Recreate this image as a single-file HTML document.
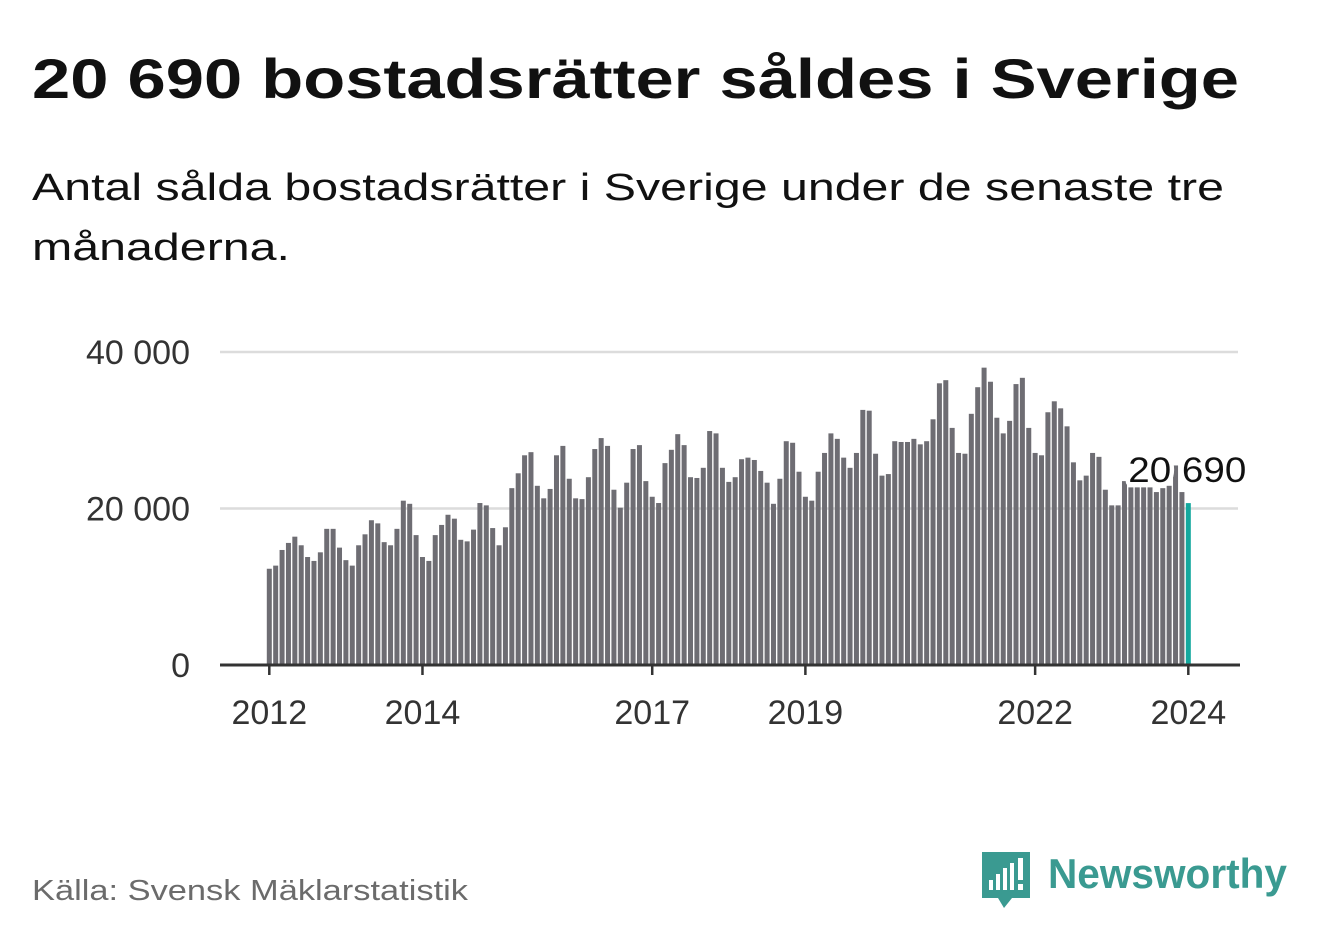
<!DOCTYPE html>
<html><head><meta charset="utf-8"><style>
html,body{margin:0;padding:0;background:#fff;width:1322px;height:939px;overflow:hidden}
text{font-family:"Liberation Sans",sans-serif}
</style></head><body>
<svg id="chart" width="1322" height="939" xmlns="http://www.w3.org/2000/svg">
<text x="32" y="98" font-size="56" font-weight="bold" fill="#111" textLength="1207" lengthAdjust="spacingAndGlyphs">20 690 bostadsrätter såldes i Sverige</text>
<text x="32" y="200" font-size="38" fill="#111" textLength="1192" lengthAdjust="spacingAndGlyphs">Antal sålda bostadsrätter i Sverige under de senaste tre</text>
<text x="32" y="260" font-size="38" fill="#111" textLength="258" lengthAdjust="spacingAndGlyphs">månaderna.</text>
<g id="grid"></g>
<g id="bars"></g>
<g id="axes"></g>
<text x="32" y="900" font-size="29" fill="#6b6b6b" textLength="436" lengthAdjust="spacingAndGlyphs">Källa: Svensk Mäklarstatistik</text>
<g>
<path d="M982,852 h48 v46 h-18 l-8,10 l-6,-10 h-16 z" fill="#3a9a91"/>
<rect x="989" y="880" width="4" height="10" fill="#fff"/>
<rect x="996" y="874" width="4" height="16" fill="#fff"/>
<rect x="1003" y="868" width="4" height="22" fill="#fff"/>
<rect x="1010" y="863" width="4" height="27" fill="#fff"/>
<rect x="1018" y="858" width="5" height="22" fill="#fff"/>
<rect x="1018" y="884" width="5" height="6" fill="#fff"/>
<text x="1048" y="888" font-size="42" font-weight="bold" fill="#3a9a91" textLength="239" lengthAdjust="spacingAndGlyphs">Newsworthy</text>
</g>
</svg>
<script>
const values = [12.3,12.7,14.7,15.6,16.4,15.3,13.8,13.3,14.4,17.4,17.4,15.0,
13.4,12.7,15.3,16.7,18.5,18.1,15.7,15.3,17.4,21.0,20.6,16.6,
13.8,13.3,16.6,17.9,19.2,18.7,16.0,15.8,17.3,20.7,20.4,17.5,
15.3,17.6,22.6,24.5,26.8,27.2,22.9,21.3,22.5,26.8,28.0,23.8,
21.3,21.2,24.0,27.6,29.0,28.0,22.4,20.1,23.3,27.6,28.1,23.5,
21.5,20.7,25.8,27.5,29.5,28.1,24.0,23.9,25.2,29.9,29.6,25.2,
23.4,24.0,26.3,26.5,26.2,24.8,23.3,20.6,23.8,28.6,28.4,24.7,
21.5,21.0,24.7,27.1,29.6,28.9,26.5,25.2,27.1,32.6,32.5,27.0,
24.2,24.4,28.6,28.5,28.5,28.9,28.2,28.6,31.4,36.0,36.4,30.3,
27.1,27.0,32.1,35.5,38.0,36.2,31.6,29.6,31.2,35.9,36.7,30.3,
27.1,26.8,32.3,33.7,32.8,30.5,25.9,23.6,24.2,27.1,26.6,22.4,
20.4,20.4,23.5,22.7,22.7,22.7,22.7,22.1,22.6,22.9,25.5,22.1,20.69];
const yTicks = [0,20000,40000];
const yTickLabels = ["0","20 000","40 000"];
const xTickYears = [2012,2014,2017,2019,2022,2024];
const lastLabel = "20 690";

const NS="http://www.w3.org/2000/svg";
const x0=269.3, step=6.382, yBase=665, pxPerK=7.825;
const xMonth = i => x0 + i*step;
const yVal = v => yBase - v*pxPerK;
function mk(tag,attrs,parent){const e=document.createElementNS(NS,tag);for(const k in attrs)e.setAttribute(k,attrs[k]);parent.appendChild(e);return e;}
const grid=document.getElementById('grid'), bars=document.getElementById('bars'), axes=document.getElementById('axes');
yTicks.forEach((t,i)=>{
  const y=yVal(t/1000);
  if(t>0){const l=mk('line',{x1:220,x2:1238,y1:y,y2:y,stroke:'#dcdcdc','stroke-width':2.5},grid);
  
  }
  const tx=mk('text',{x:190,y:y+12,'font-size':34,fill:'#333','text-anchor':'end'},grid);
  
  
  tx.textContent=yTickLabels[i];
});
values.forEach((v,i)=>{
  const last=i===values.length-1;
  const r=mk('rect',{x:xMonth(i)-2.5,y:yVal(v),width:5,height:v*pxPerK,fill:last?'#13a89e':'#6e6d73'},bars);
  
  
});
const ax=mk('line',{x1:220,x2:1240,y1:yBase,y2:yBase,stroke:'#333','stroke-width':3},axes);


xTickYears.forEach(yr=>{
  const x=xMonth((yr-2012)*12);
  const t=mk('line',{x1:x,x2:x,y1:yBase,y2:yBase+10,stroke:'#333','stroke-width':2.5},axes);
  
  
  const tx=mk('text',{x:x,y:724,'font-size':34,fill:'#333','text-anchor':'middle'},axes);
  
  
  tx.textContent=yr;
});
const li=values.length-1;
const lab=mk('text',{x:xMonth(li)+58,y:yVal(values[li])-21,'font-size':35,fill:'#111','text-anchor':'end',stroke:'#fff','stroke-width':8,'paint-order':'stroke','stroke-linejoin':'round',textLength:118,lengthAdjust:'spacingAndGlyphs'},axes);


lab.textContent=lastLabel;
</script>
</body></html>
